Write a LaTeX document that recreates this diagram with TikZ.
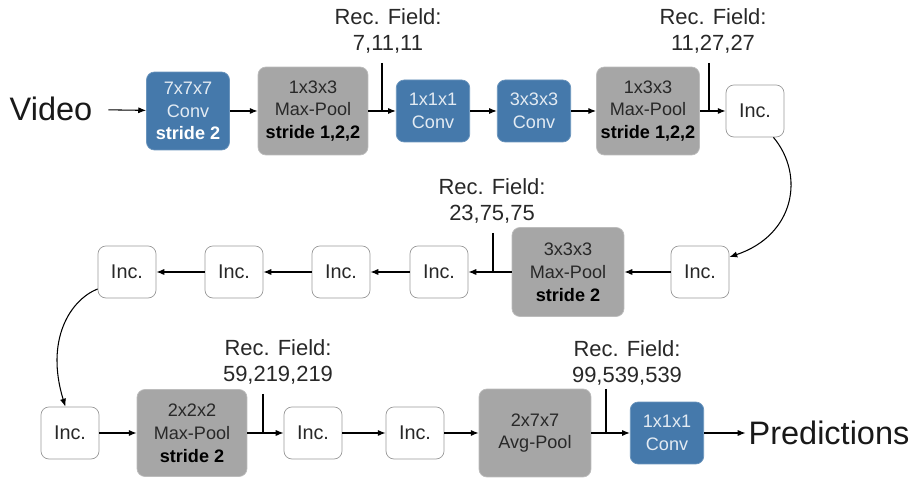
\documentclass[tikz,border=0pt]{standalone}
\usepackage{fontspec}
\setmainfont{Liberation Sans}
\usetikzlibrary{arrows.meta}
\definecolor{convblue}{RGB}{69,121,171}
\definecolor{poolgray}{RGB}{166,166,166}
\definecolor{inkgray}{RGB}{40,40,40}

\begin{document}
\begin{tikzpicture}[x=0.02cm,y=-0.02cm,
    box/.style={rounded corners=4.5pt, align=center, inner sep=0pt,
      font=\fontsize{10.3}{13}\selectfont},
    conv/.style={box, fill=convblue, draw=convblue!80!white, text=white!85!convblue,
      minimum width=1.47cm, minimum height=1.24cm},
    pool/.style={box, fill=poolgray, draw=poolgray!75!white, text=inkgray,
      minimum width=2.2cm, minimum height=1.76cm},
    inc/.style={box, fill=white, draw=black!40, text=inkgray,
      minimum width=1.16cm, minimum height=1.04cm, font=\fontsize{11.3}{13}\selectfont},
    field/.style={align=center, font=\fontsize{12.5}{14.5}\selectfont, text=inkgray},
    big/.style={font=\fontsize{18.5}{20}\selectfont, text=black!90, inner sep=1.5pt},
    link/.style={-{Latex[length=4.5pt,width=3.5pt]}, line width=0.6pt}
  ]
  \useasboundingbox (0,0) rectangle (914,482);

  % first row
  \node[big] (video) at (51,109) {Video};
  \node[conv, minimum width=1.66cm, minimum height=1.56cm] (conv1) at (188,111)
    {7x7x7\\Conv\\\textcolor{white}{\bfseries stride 2}};
  \node[pool] (pool1) at (313,111) {1x3x3\\Max-Pool\\\textcolor{black}{\bfseries stride 1,2,2}};
  \node[conv] (conv2) at (433,111) {1x1x1\\Conv};
  \node[conv] (conv3) at (534,111) {3x3x3\\Conv};
  \node[pool, minimum width=2.06cm] (pool2) at (648,111)
    {1x3x3\\Max-Pool\\\textcolor{black}{\bfseries stride 1,2,2}};
  \node[inc] (inc1) at (755,111) {Inc.};

  % second row
  \node[inc] (inc2) at (700,272) {Inc.};
  \node[pool, minimum width=2.24cm, minimum height=1.78cm] (pool3) at (568,272)
    {3x3x3\\Max-Pool\\\textcolor{black}{\bfseries stride 2}};
  \node[inc] (inc3) at (439,272) {Inc.};
  \node[inc] (inc4) at (341,272) {Inc.};
  \node[inc] (inc5) at (234,272) {Inc.};
  \node[inc] (inc6) at (127,272) {Inc.};

  % third row
  \node[inc] (inc7) at (70,433) {Inc.};
  \node[pool, minimum height=1.74cm] (pool4) at (192,433)
    {2x2x2\\Max-Pool\\\textcolor{black}{\bfseries stride 2}};
  \node[inc] (inc8) at (313,433) {Inc.};
  \node[inc] (inc9) at (415,433) {Inc.};
  \node[pool, minimum width=2.24cm] (pool5) at (535,433) {2x7x7\\Avg-Pool};
  \node[conv] (conv4) at (667,433) {1x1x1\\Conv};
  \node[big] (pred) at (829,433) {Predictions};

  % receptive fields
  \node[field] (f1) at (388,31) {Rec. Field:\\7,11,11};
  \node[field] (f2) at (713,31) {Rec. Field:\\11,27,27};
  \node[field] (f3) at (492,201) {Rec. Field:\\23,75,75};
  \node[field] (f4) at (278,362) {Rec. Field:\\59,219,219};
  \node[field] (f5) at (627,363) {Rec. Field:\\99,539,539};
  \coordinate (t1) at (382,63);
  \coordinate (t2) at (709,63);
  \coordinate (t3) at (493,233);
  \coordinate (t4) at (263,394);
  \coordinate (t5) at (606,389);

  \draw[link, shorten <=7.5pt] (video) -- (conv1);
  \draw[link] (conv1) -- (pool1);
  \draw[link] (pool1) -- (conv2);
  \draw[link] (conv2) -- (conv3);
  \draw[link] (conv3) -- (pool2);
  \draw[link] (pool2) -- (inc1);
  \draw[link] (inc1.-55) .. controls (805,175) and (795,235) .. (inc2.27);
  \draw[link] (inc2) -- (pool3);
  \draw[link] (pool3) -- (inc3);
  \draw[link] (inc3) -- (inc4);
  \draw[link] (inc4) -- (inc5);
  \draw[link] (inc5) -- (inc6);
  \draw[link] (inc6.-150) .. controls (70,300) and (45,340) .. (inc7.100);
  \draw[link] (inc7) -- (pool4);
  \draw[link] (pool4) -- (inc8);
  \draw[link] (inc8) -- (inc9);
  \draw[link] (inc9) -- (pool5);
  \draw[link] (pool5) -- (conv4);
  \draw[link] (conv4) -- (pred);

  \draw[line width=0.6pt] (t1) -- (t1 |- pool1.east);
  \draw[line width=0.6pt] (t2) -- (t2 |- pool2.east);
  \draw[line width=0.6pt] (t3) -- (t3 |- pool3.west);
  \draw[line width=0.6pt] (t4) -- (t4 |- pool4.east);
  \draw[line width=0.6pt] (t5) -- (t5 |- pool5.east);
\end{tikzpicture}
\end{document}
